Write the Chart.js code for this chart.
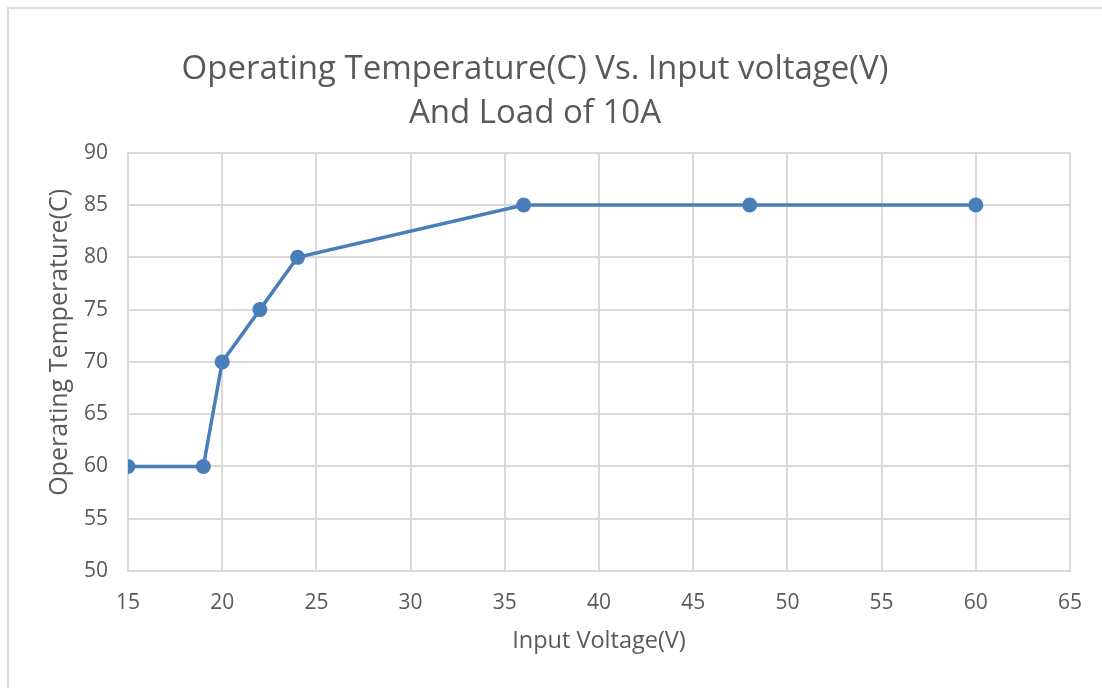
<!DOCTYPE html>
<html>
<head>
<meta charset="utf-8">
<script src="https://cdn.jsdelivr.net/npm/chart.js@4/dist/chart.umd.min.js"></script>
<style>
    html, body { margin: 0; padding: 0; background: #fff; overflow: hidden; }
    #frame {
        position: absolute; left: 7px; top: 7px;
        width: 1200px; height: 800px;
        border: 2px solid #d9d9d9;
    }
    #wrap { position: absolute; left: 0; top: 0; width: 1102px; height: 688px; }
</style>
</head>
<body>
<div id="frame"></div>
<div id="wrap"><canvas id="chart"></canvas></div>
<script>
// values
const inputVoltage = [15, 19, 20, 22, 24, 36, 48, 60];
const operatingTemp = [60, 60, 70, 75, 80, 85, 85, 85];
const titleLines = ['Operating Temperature(C) Vs. Input voltage(V)', 'And Load of 10A'];
const xTitle = 'Input Voltage(V)';
// leading spaces nudge the rotated label upward, like the original
const yTitle = '      Operating Temperature(C)';

const textColor = '#595959';
const gridColor = '#d9d9d9';
const lineColor = '#4a7ebb';
const fontFamily = '"Open Sans", sans-serif';

const points = inputVoltage.map((v, i) => ({ x: v, y: operatingTemp[i] }));

new Chart(document.getElementById('chart'), {
    type: 'scatter',
    data: {
        datasets: [{
            data: points,
            showLine: true,
            borderColor: lineColor,
            backgroundColor: lineColor,
            borderWidth: 3.5,
            pointRadius: 7.5,
            pointHoverRadius: 7.5,
            pointBorderWidth: 0
        }]
    },
    options: {
        responsive: true,
        maintainAspectRatio: false,
        animation: false,
        layout: { padding: { left: 0, right: 32, top: 0, bottom: 0 } },
        plugins: {
            legend: { display: false },
            tooltip: { enabled: false },
            title: {
                display: true,
                text: titleLines,
                color: textColor,
                font: { family: fontFamily, size: 33, weight: 'normal', lineHeight: 1.33 },
                padding: { top: 48, bottom: 17 }
            }
        },
        scales: {
            x: {
                type: 'linear',
                min: 15,
                max: 65,
                afterFit: (scale) => { scale.height = 117; },
                ticks: {
                    stepSize: 5,
                    color: textColor,
                    padding: 19,
                    maxRotation: 0,
                    font: { family: fontFamily, size: 21 }
                },
                grid: { color: gridColor, lineWidth: 2, drawTicks: false },
                border: { color: gridColor, width: 2 },
                title: {
                    display: true,
                    text: xTitle,
                    color: textColor,
                    font: { family: fontFamily, size: 23.5 },
                    padding: { top: 0, bottom: 33 }
                }
            },
            y: {
                min: 50,
                max: 90,
                afterFit: (scale) => { scale.width = 128; },
                ticks: {
                    stepSize: 5,
                    color: textColor,
                    padding: 20,
                    font: { family: fontFamily, size: 21 }
                },
                grid: { color: gridColor, lineWidth: 2, drawTicks: false },
                border: { color: gridColor, width: 2 },
                title: {
                    display: true,
                    text: yTitle,
                    color: textColor,
                    font: { family: fontFamily, size: 25 },
                    padding: { top: 45, bottom: 0 }
                }
            }
        }
    }
});
</script>
</body>
</html>
